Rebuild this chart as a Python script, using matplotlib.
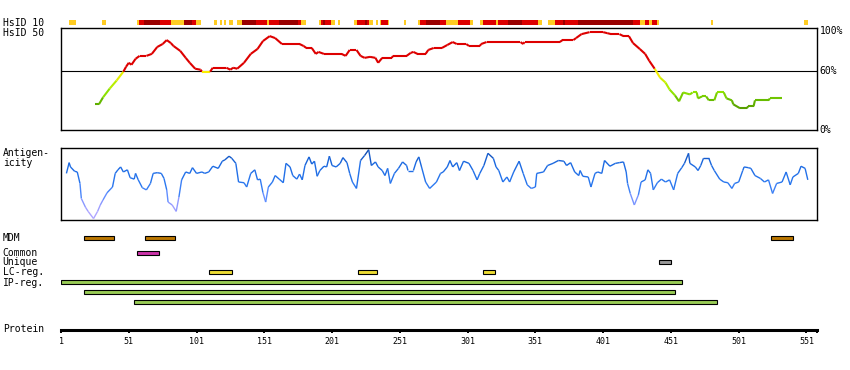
import numpy as np
import matplotlib
matplotlib.use("Agg")
import matplotlib.pyplot as plt
from matplotlib.collections import LineCollection
from matplotlib.colors import LinearSegmentedColormap, Normalize
from matplotlib.transforms import blended_transform_factory

# ---- data -------------------------------------------------------------
protein_len = 559
tick_res = [1, 51, 101, 151, 201, 251, 301, 351, 401, 451, 501, 551]

# HsID 10 strip: segment start / end residue, level (0 low, 1 mid, 2 high)
h10_start = [7, 31, 57, 58.5, 62.4, 74.2, 82.3, 91.4, 97.8, 100.7, 114, 118.4, 121.4,
             125.3, 131, 134.7, 145, 152.9, 154.3, 161.9, 176.2, 178.2, 191.4, 192.9,
             194.6, 195.9, 200.3, 205.2, 217.2, 219.4, 225.3, 226.8, 228.3, 233.5, 236.4,
             237.1, 242.3, 254.1, 264.4, 265.9, 270.3, 280.6, 285, 293.9, 302.7, 310.2,
             312.4, 322, 323.4, 330.8, 341.1, 352.9, 360.3, 365.5, 371.4, 372.9, 382.5,
             422.7, 428.1, 431.8, 434.9, 436.9, 440.8, 480.9, 549.2]
h10_end = [12, 34.5, 58.5, 62.4, 74.2, 82.3, 91.4, 97.8, 100.7, 104.4, 116.4, 119.7, 122.6,
           127.8, 134.7, 145, 152.9, 154.3, 161.9, 176.2, 178.2, 181.8, 192.9, 194.6,
           195.9, 200.3, 203.2, 206.7, 219.4, 225.3, 226.8, 228.3, 231.2, 235, 237.1,
           242.3, 243, 255.6, 265.9, 270.3, 280.6, 285, 293.9, 302.7, 304.9, 312.4,
           322, 323.4, 330.8, 341.1, 352.9, 355.9, 365.5, 371.4, 372.9, 382.5, 422.7,
           428.1, 431.8, 434.9, 436.9, 440.8, 442.3, 482.4, 551.9]
h10_level = [0, 0, 0, 1, 2, 1, 0, 2, 1, 0, 0, 0, 0,
             0, 0, 2, 1, 0, 1, 2, 1, 0, 0, 1,
             2, 1, 0, 0, 0, 1, 2, 1, 0, 0, 0,
             1, 0, 0, 0, 1, 2, 1, 0, 1, 0, 0,
             1, 0, 1, 2, 1, 0, 0, 1, 2, 1, 2,
             1, 0, 1, 0, 1, 0, 0, 0]

# HsID 50 profile (% identity)
h50_res = [26, 29, 32, 37, 42, 47, 49, 51, 53, 56, 59, 64, 68, 72, 76, 79, 82, 84, 89, 93,
           96, 100, 104, 105, 111, 113, 123, 126, 128, 131, 136, 141, 146, 150, 155, 159,
           164, 177, 180, 182, 186, 189, 191, 195, 206, 208, 211, 214, 219, 222, 225, 229,
           233, 235, 238, 245, 246, 256, 259, 261, 264, 270, 272, 276, 282, 286, 290, 293,
           300, 302, 310, 311, 315, 340, 342, 343, 369, 371, 379, 381, 385, 391, 401, 404,
           407, 413, 416, 420, 423, 428, 432, 435, 439, 443, 447, 450, 454, 457, 460, 465,
           467, 470, 471, 474, 477, 479, 483, 485, 490, 492, 496, 497, 502, 507, 508, 512,
           513, 523, 524, 533]
h50_pct = [26, 26, 33, 42, 50, 59, 64, 68, 66, 72, 75, 75, 77, 84, 87, 91, 88, 85, 80, 73,
           68, 62, 61, 59, 59, 63, 63, 61, 63, 62, 68, 77, 82, 90, 95, 93,
           87, 87, 85, 83, 83, 77, 79, 77, 77, 77, 75, 81, 81, 75, 73, 74,
           73, 68, 73, 73, 75, 75, 78, 79, 77, 77, 81, 83, 83, 86, 89, 87,
           87, 85, 85, 87, 89, 89, 87, 89, 89, 91, 91, 93, 97, 99, 99, 98,
           97, 97, 95, 95, 88, 82, 77, 70, 62, 53, 48, 41, 35, 29, 38, 36,
           38, 38, 32, 34, 34, 30, 30, 38, 38, 32, 30, 26, 22, 22, 24, 24,
           30, 30, 32, 32]

# antigenicity profile (relative score, 0-100)
ag_res = [5, 7, 8, 11, 13, 15, 16, 19, 21, 25, 28, 30, 32, 35, 39, 41, 43, 45, 47, 50,
          52, 55, 56, 58, 61, 64, 67, 69, 72, 75, 77, 79, 80, 83, 86, 88, 90, 93, 96, 98,
          101, 105, 107, 110, 113, 117, 120, 122, 125, 127, 130, 132, 136, 138, 141, 144,
          146, 148, 150, 152, 154, 157, 159, 162, 165, 167, 170, 172, 175, 177, 179, 181,
          184, 186, 188, 190, 192, 195, 197, 199, 201, 204, 207, 209, 212, 214, 216, 219,
          222, 225, 228, 230, 233, 235, 238, 240, 242, 244, 247, 250, 253, 256, 257, 261,
          263, 265, 267, 270, 273, 278, 281, 283, 286, 288, 290, 293, 295, 298, 302, 305,
          308, 310, 313, 316, 320, 322, 324, 327, 330, 332, 335, 339, 342, 345, 348, 351,
          352, 357, 360, 364, 368, 372, 374, 377, 380, 383, 384, 386, 390, 392, 395, 397,
          400, 402, 406, 410, 413, 416, 418, 419, 421, 424, 427, 429, 432, 434, 436, 438,
          441, 444, 447, 450, 453, 456, 459, 461, 464, 465, 469, 471, 473, 475, 479, 481,
          483, 487, 490, 493, 496, 498, 501, 504, 505, 508, 510, 513, 517, 520, 523, 526,
          529, 533, 536, 539, 541, 545, 547, 550, 552]
ag_val = [65, 80, 74, 68, 67, 51, 30, 18, 12, 2, 12, 21, 28, 38, 46, 65, 70, 74, 67, 70,
          59, 57, 65, 56, 45, 42, 51, 65, 66, 65, 58, 42, 25, 21, 12, 32, 56, 67, 65, 73,
          65, 67, 65, 67, 75, 72, 82, 84, 89, 86, 79, 53, 52, 46, 65, 70,
          56, 57, 38, 25, 46, 53, 62, 57, 52, 79, 74, 62, 57, 64, 56, 76,
          88, 78, 82, 61, 69, 75, 74, 89, 76, 74, 79, 87, 80, 65, 53, 44,
          83, 90, 98, 76, 81, 74, 69, 62, 72, 51, 65, 72, 81, 76, 69, 69,
          81, 88, 74, 53, 44, 53, 65, 67, 74, 83, 74, 80, 69, 82, 79, 69,
          56, 65, 76, 93, 86, 74, 69, 53, 60, 53, 67, 82, 65, 49, 44, 46,
          65, 67, 76, 79, 83, 82, 76, 80, 67, 62, 69, 61, 60, 46, 65, 67,
          65, 83, 75, 79, 80, 81, 67, 51, 37, 21, 35, 53, 56, 70, 65, 42,
          52, 57, 53, 56, 42, 65, 73, 79, 93, 79, 74, 69, 76, 86, 86, 76,
          69, 57, 53, 52, 44, 51, 53, 69, 74, 73, 72, 62, 58, 53, 56, 37,
          51, 53, 67, 49, 60, 65, 75, 72, 56]

# feature tracks: start / end residues
mdm_start, mdm_end = [18, 63, 525], [40, 85, 541]
common_start, common_end = [57], [73]
unique_start, unique_end = [442], [451]
lc_start, lc_end = [110, 220, 312], [127, 234, 321]
ip_start, ip_end = [1, 18, 55], [459, 454, 485]

# ---- layout / style ----------------------------------------------------
W, H = 850, 370
X_L, X_R = 61, 817.3
MONO = "DejaVu Sans Mono"

fig = plt.figure(figsize=(W / 100, H / 100), dpi=100)
fig.patch.set_facecolor("white")


def px_axes(y0, y1, x0=X_L, x1=X_R):
    ax = fig.add_axes([x0 / W, 1 - y1 / H, (x1 - x0) / W, (y1 - y0) / H])
    ax.set_xlim(1, protein_len)
    ax.set_xticks([])
    ax.set_yticks([])
    ax.patch.set_alpha(0)
    return ax


def label(x, y, s, size=7, ha="left"):
    fig.text(x / W, 1 - y / H, s, fontsize=size, family=MONO, ha=ha, va="center")


# HsID 10 strip
ax10 = px_axes(20, 25)
ax10.set_ylim(0, 1)
for s in ax10.spines.values():
    s.set_visible(False)
lvl_colors = ["#ffcc22", "#dd0000", "#990000"]
for lv, col in enumerate(lvl_colors):
    segs = [(a, b - a) for a, b, l in zip(h10_start, h10_end, h10_level) if l == lv]
    ax10.broken_barh(segs, (0, 1), facecolors=col, linewidth=0)

# HsID 50 panel
ax50 = px_axes(28.3, 130)
ax50.set_ylim(0, 102.9)
for s in ax50.spines.values():
    s.set_linewidth(1.0)
ax50.axhline(60, color="black", lw=0.8)
low_cmap = LinearSegmentedColormap.from_list(
    "low", ["#559900", "#66bb00", "#99ee00", "#ccee00", "#ffee00"])
low_norm = Normalize(20, 60)
pts = np.column_stack([h50_res, h50_pct])
segs = np.stack([pts[:-1], pts[1:]], axis=1)
mid = (pts[:-1, 1] + pts[1:, 1]) / 2
cols = ["#dd0000" if m >= 60 else low_cmap(low_norm(m)) for m in mid]
ax50.add_collection(LineCollection(segs, colors=cols, linewidths=1.5, capstyle="butt"))
tr = blended_transform_factory(ax50.transAxes, ax50.transData)
for v, t in [(100, "100%"), (60, "60%"), (0, "0%")]:
    ax50.text(1.003, v, t, transform=tr, fontsize=7, family=MONO, va="center", ha="left")

# antigenicity panel
axag = px_axes(148.3, 220)
axag.set_ylim(0, 100)
for s in axag.spines.values():
    s.set_linewidth(1.0)
ag_cmap = LinearSegmentedColormap.from_list(
    "ag", [(0, "#b8aaff"), (0.2, "#9a9cff"), (0.35, "#5a8cff"), (0.5, "#2a78f0"),
           (0.8, "#1a68e0"), (1.0, "#0a40a0")])
pts = np.column_stack([ag_res, ag_val])
segs = np.stack([pts[:-1], pts[1:]], axis=1)
mid = (pts[:-1, 1] + pts[1:, 1]) / 2
axag.add_collection(LineCollection(segs, colors=ag_cmap(mid / 100), linewidths=1.0))

# feature tracks
axf = px_axes(228, 310)
axf.set_ylim(310, 228)
axf.axis("off")
tracks = [
    (mdm_start, mdm_end, [237.8] * 3, "#bb7700"),
    (common_start, common_end, [252.5], "#cc33aa"),
    (unique_start, unique_end, [262.3], "#999999"),
    (lc_start, lc_end, [272.3] * 3, "#eedd33"),
    (ip_start, ip_end, [282.2, 292.2, 302.2], "#99cc55"),
]
for st, en, ys, col in tracks:
    st, en = np.array(st), np.array(en)
    axf.barh(ys, en - st, left=st, height=4, color=col, edgecolor="black", linewidth=0.8)

# protein axis
axp = px_axes(320, 329.5)
for k, s in axp.spines.items():
    s.set_visible(k == "bottom")
axp.spines["bottom"].set_linewidth(2.2)
axp.set_xticks(tick_res)
axp.set_xticklabels([str(t) for t in tick_res], fontsize=6, family=MONO)
axp.set_xticks([protein_len], minor=True)
axp.tick_params(axis="x", which="both", direction="out", length=2.2, width=1.4, pad=3)

# left labels
label(2.7, 22.7, "HsID 10")
label(2.7, 32.7, "HsID 50")
label(2.7, 152.7, "Antigen-")
label(2.7, 163.3, "icity")
label(2.7, 237.7, "MDM")
label(2.7, 252.7, "Common")
label(2.7, 262, "Unique")
label(2.7, 272.3, "LC-reg.")
label(2.7, 282.5, "IP-reg.")
label(2.7, 328.5, "Protein")

fig.savefig("out.png", dpi=100)
